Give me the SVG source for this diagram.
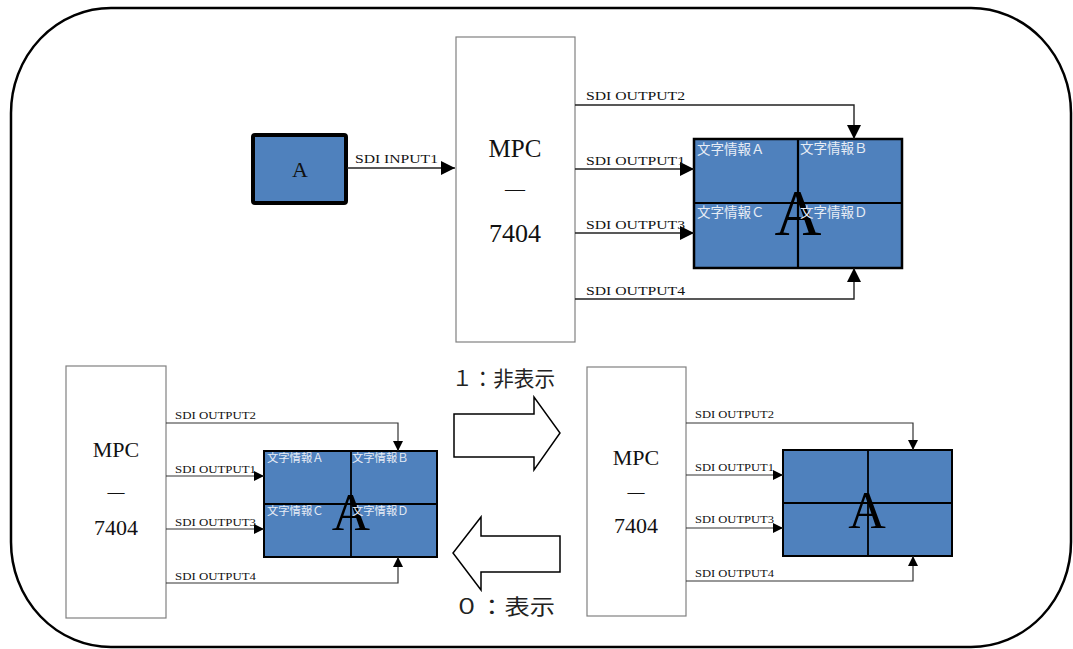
<svg xmlns="http://www.w3.org/2000/svg" width="1073" height="649" viewBox="0 0 1073 649">
<style>
.frame{fill:none;stroke:#000;stroke-width:2.5}
.mpc{fill:#fff;stroke:#808080;stroke-width:1.2}
.scr{fill:#4F81BD;stroke:#000;stroke-width:2.5}
.scrs{fill:#4F81BD;stroke:#000;stroke-width:2}
.div{stroke:#000;stroke-width:2.2;fill:none}
.divs{stroke:#000;stroke-width:1.8;fill:none}
.con{fill:none;stroke:#222;stroke-width:1.4}
.cons{fill:none;stroke:#333;stroke-width:1.2}
.serif{font-family:"Liberation Serif","DejaVu Serif",serif;fill:#111}
.jp{font-family:"Noto Sans CJK JP","Noto Sans",sans-serif;fill:#e6ecf5}
.jpb{font-family:"Noto Sans CJK JP","Noto Sans",sans-serif;fill:#222}
.big{font-family:"Liberation Serif","DejaVu Serif",serif;fill:#000;text-anchor:middle}
.arrow{fill:#fff;stroke:#000;stroke-width:1.5;stroke-linejoin:miter}
</style>
<defs>
<marker id="ah" markerUnits="userSpaceOnUse" markerWidth="14" markerHeight="14" refX="14" refY="7" orient="auto">
<path d="M0,0 L14,7 L0,14 z" fill="#000"/>
</marker>
<marker id="ahs" markerUnits="userSpaceOnUse" markerWidth="10" markerHeight="10" refX="10" refY="5" orient="auto">
<path d="M0,0 L10,5 L0,10 z" fill="#000"/>
</marker>
</defs>

<rect id="frame" class="frame" x="11" y="8" width="1060" height="639" rx="100" ry="105"/>

<g id="source-A">
<rect x="253" y="135" width="93" height="68" rx="2" fill="#4F81BD" stroke="#000" stroke-width="4"/>
<text class="serif" x="300" y="177" font-size="22" text-anchor="middle">A</text>
</g>

<g id="mpc-top">
<rect class="mpc" x="456" y="37" width="119" height="305"/>
<text class="serif" x="515" y="157" font-size="25" text-anchor="middle">MPC</text>
<text class="serif" x="515" y="196" font-size="20" text-anchor="middle">—</text>
<text class="serif" x="515" y="242" font-size="26" text-anchor="middle">7404</text>
</g>

<g id="screen-top">
<rect class="scr" x="694" y="139" width="208" height="129"/>
<path class="div" d="M798,139 V268 M694,203 H902"/>
<text class="big" x="798" y="235" font-size="65">A</text>
<text class="jp" x="697" y="154" font-size="13.5">文字情報Ａ</text>
<text class="jp" x="800" y="153" font-size="13.5">文字情報Ｂ</text>
<text class="jp" x="697" y="217" font-size="13.5">文字情報Ｃ</text>
<text class="jp" x="800" y="217" font-size="13.5">文字情報Ｄ</text>
</g>

<g id="mpc-bl">
<rect class="mpc" x="66" y="366" width="100" height="252"/>
<text class="serif" x="116" y="457" font-size="22" text-anchor="middle">MPC</text>
<text class="serif" x="116" y="497" font-size="17" text-anchor="middle">—</text>
<text class="serif" x="116" y="535" font-size="22" text-anchor="middle">7404</text>
</g>

<g id="screen-bl">
<rect class="scrs" x="264" y="451" width="173" height="106"/>
<path class="divs" d="M351,451 V557 M264,504 H437"/>
<text class="big" x="351" y="530" font-size="53">A</text>
<text class="jp" x="267" y="462" font-size="11.3">文字情報Ａ</text>
<text class="jp" x="352" y="462" font-size="11.3">文字情報Ｂ</text>
<text class="jp" x="267" y="515" font-size="11.3">文字情報Ｃ</text>
<text class="jp" x="352" y="515" font-size="11.3">文字情報Ｄ</text>
</g>

<g id="mpc-br">
<rect class="mpc" x="587" y="367" width="99" height="249"/>
<text class="serif" x="636" y="465" font-size="22" text-anchor="middle">MPC</text>
<text class="serif" x="636" y="497" font-size="17" text-anchor="middle">—</text>
<text class="serif" x="636" y="533" font-size="22" text-anchor="middle">7404</text>
</g>

<g id="screen-br">
<rect class="scrs" x="783" y="450" width="169" height="106"/>
<path class="divs" d="M868,450 V556 M783,503 H952"/>
<text class="big" x="867" y="528" font-size="52">A</text>
</g>

<g id="toggle-hide">
<path class="arrow" d="M454,414 H534 V397 L560,433 L534,470 V457 H454 Z"/>
<text class="jpb" x="452" y="386" font-size="21" textLength="103" lengthAdjust="spacingAndGlyphs">１：非表示</text>
</g>

<g id="toggle-show">
<path class="arrow" d="M560,536 H481 V517 L453,553 L481,590 V572 H560 Z"/>
<text class="jpb" x="454" y="614" font-size="21" textLength="101" lengthAdjust="spacingAndGlyphs">０：表示</text>
</g>

<g id="connectors">
<path class="con" d="M347,168 H455" marker-end="url(#ah)"/>
<text class="serif" x="355" y="163" font-size="12" textLength="83" lengthAdjust="spacingAndGlyphs">SDI INPUT1</text>

<path class="con" d="M575,105 H854 V139" marker-end="url(#ah)"/>
<path class="con" d="M575,169 H694" marker-end="url(#ah)"/>
<path class="con" d="M575,233 H694" marker-end="url(#ah)"/>
<path class="con" d="M575,299 H854 V268" marker-end="url(#ah)"/>
<text class="serif" x="586" y="100" font-size="12" textLength="99" lengthAdjust="spacingAndGlyphs">SDI OUTPUT2</text>
<text class="serif" x="586" y="165" font-size="12" textLength="99" lengthAdjust="spacingAndGlyphs">SDI OUTPUT1</text>
<text class="serif" x="586" y="229" font-size="12" textLength="99" lengthAdjust="spacingAndGlyphs">SDI OUTPUT3</text>
<text class="serif" x="586" y="295" font-size="12" textLength="99" lengthAdjust="spacingAndGlyphs">SDI OUTPUT4</text>

<path class="cons" d="M166,423 H398 V451" marker-end="url(#ahs)"/>
<path class="cons" d="M166,476 H264" marker-end="url(#ahs)"/>
<path class="cons" d="M166,529 H264" marker-end="url(#ahs)"/>
<path class="cons" d="M166,583 H398 V557" marker-end="url(#ahs)"/>
<text class="serif" x="175" y="419" font-size="10" textLength="81" lengthAdjust="spacingAndGlyphs">SDI OUTPUT2</text>
<text class="serif" x="175" y="473" font-size="10" textLength="81" lengthAdjust="spacingAndGlyphs">SDI OUTPUT1</text>
<text class="serif" x="175" y="526" font-size="10" textLength="81" lengthAdjust="spacingAndGlyphs">SDI OUTPUT3</text>
<text class="serif" x="175" y="580" font-size="10" textLength="81" lengthAdjust="spacingAndGlyphs">SDI OUTPUT4</text>

<path class="cons" d="M686,423 H913 V450" marker-end="url(#ahs)"/>
<path class="cons" d="M686,475 H783" marker-end="url(#ahs)"/>
<path class="cons" d="M686,528 H783" marker-end="url(#ahs)"/>
<path class="cons" d="M686,581 H913 V556" marker-end="url(#ahs)"/>
<text class="serif" x="695" y="418" font-size="10" textLength="79" lengthAdjust="spacingAndGlyphs">SDI OUTPUT2</text>
<text class="serif" x="695" y="471" font-size="10" textLength="79" lengthAdjust="spacingAndGlyphs">SDI OUTPUT1</text>
<text class="serif" x="695" y="523" font-size="10" textLength="79" lengthAdjust="spacingAndGlyphs">SDI OUTPUT3</text>
<text class="serif" x="695" y="577" font-size="10" textLength="79" lengthAdjust="spacingAndGlyphs">SDI OUTPUT4</text>
</g>
</svg>
